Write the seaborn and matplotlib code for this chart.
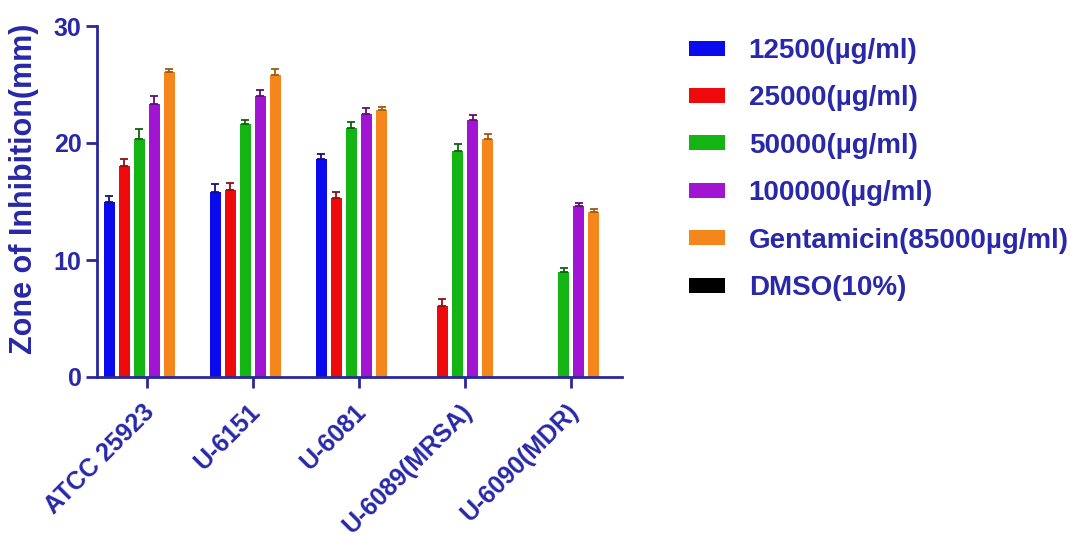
import matplotlib
matplotlib.use("Agg")
import matplotlib.pyplot as plt
import matplotlib.transforms as mtransforms
import seaborn as sns
import pandas as pd
import numpy as np

categories = ["ATCC 25923", "U-6151", "U-6081", "U-6089(MRSA)", "U-6090(MDR)"]
series = ["12500(µg/ml)", "25000(µg/ml)", "50000(µg/ml)", "100000(µg/ml)",
          "Gentamicin(85000µg/ml)", "DMSO(10%)"]

v12500 = [15.0, 15.8, 18.6, 0.0, 0.0]
v25000 = [18.0, 16.0, 15.3, 6.1, 0.0]
v50000 = [20.3, 21.6, 21.3, 19.3, 9.0]
v100000 = [23.3, 24.0, 22.5, 22.0, 14.6]
vgenta = [26.1, 25.8, 22.8, 20.3, 14.1]
vdmso = [0.0, 0.0, 0.0, 0.0, 0.0]

e12500 = [0.5, 0.7, 0.5, 0.0, 0.0]
e25000 = [0.6, 0.6, 0.5, 0.6, 0.0]
e50000 = [0.9, 0.4, 0.5, 0.6, 0.3]
e100000 = [0.7, 0.5, 0.5, 0.4, 0.3]
egenta = [0.2, 0.5, 0.3, 0.5, 0.3]
edmso = [0.0, 0.0, 0.0, 0.0, 0.0]

values = [v12500, v25000, v50000, v100000, vgenta, vdmso]
errors = [e12500, e25000, e50000, e100000, egenta, edmso]

colors = ["#0a0aee", "#ee0a0a", "#14b414", "#a014d2", "#f5861c", "#000000"]
err_colors = ["#101080", "#901010", "#106010", "#601070", "#a05a10", "#000000"]
text_color = "#2828a8"
axis_color = "#28289a"

rows = []
for s, vals in zip(series, values):
    for c, v in zip(categories, vals):
        rows.append({"Strain": c, "Treatment": s, "Zone": v})
df = pd.DataFrame(rows)

sns.set_style("white")
plt.rcParams["font.family"] = ["Liberation Sans", "DejaVu Sans"]
plt.rcParams["font.weight"] = "bold"

fig = plt.figure(figsize=(10.79, 5.38), dpi=100)
ax = fig.add_axes([97/1079, 1-377/538, (622-97)/1079, (377-26)/538])

sns.barplot(data=df, x="Strain", y="Zone", hue="Treatment", order=categories,
            hue_order=series, palette=colors, width=0.85, gap=0.3,
            saturation=1, errorbar=None, linewidth=0, ax=ax, legend=False)

for cont, errs, ec in zip(ax.containers, errors, err_colors):
    for bar, err in zip(cont, errs):
        h = bar.get_height()
        if h > 0 and err > 0:
            xc = bar.get_x() + bar.get_width() / 2
            ax.errorbar([xc], [h], yerr=[[0], [err]], fmt="none", ecolor=ec,
                        elinewidth=1.3, capsize=3, capthick=1.3, zorder=3)

ax.set_xlim(-0.47, 4.48)
ax.set_ylim(0, 30)
ax.set_yticks([0, 10, 20, 30])
ax.set_xlabel("")
ax.set_ylabel("Zone of Inhibition(mm)", fontsize=22, fontweight="bold",
              color=text_color)
ax.yaxis.set_label_coords(-0.11, 0.535)

sns.despine(ax=ax)
for sp in ["left", "bottom"]:
    ax.spines[sp].set_color(axis_color)
    ax.spines[sp].set_linewidth(2.0)

ax.tick_params(axis="both", which="major", bottom=True, left=True,
               direction="out", colors=axis_color, width=2.0, length=8,
               labelcolor=text_color, labelsize=18)
ax.tick_params(axis="y", pad=3)
ax.tick_params(axis="x", pad=1)
offset = mtransforms.ScaledTranslation(-0.05, -0.10, fig.dpi_scale_trans)
for lab in ax.get_yticklabels():
    lab.set_fontweight("bold")
for lab in ax.get_xticklabels():
    lab.set_fontweight("bold")
    lab.set_rotation(45)
    lab.set_ha("right")
    lab.set_va("top")
    lab.set_rotation_mode("anchor")
    lab.set_transform(lab.get_transform() + offset)

handles = [plt.Rectangle((0, 0), 1, 1, facecolor=c, edgecolor="none") for c in colors]
leg = ax.legend(handles, series, loc="upper left",
                bbox_to_anchor=(689/1079, 1-38/538), bbox_transform=fig.transFigure,
                frameon=False, fontsize=20, handlelength=1.3, handleheight=0.45,
                handletextpad=0.85, labelspacing=0.77, borderpad=0, borderaxespad=0)
for t in leg.get_texts():
    t.set_color(text_color)
    t.set_fontweight("bold")

fig.savefig("out.png", dpi=100)
